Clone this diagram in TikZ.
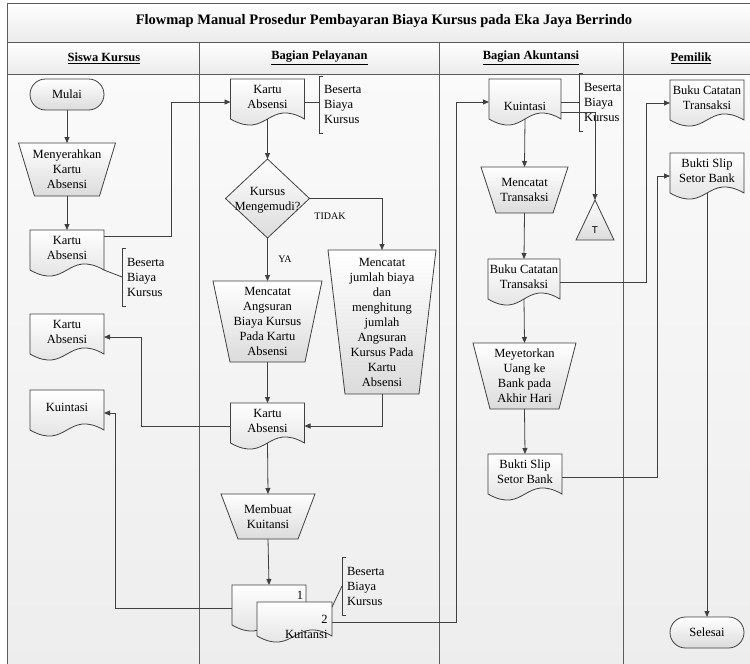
\documentclass[tikz,border=0pt]{standalone}
\usepackage{fontspec}
\setmainfont{Liberation Serif}
\newfontfamily\sansT{Liberation Sans}
\usetikzlibrary{arrows.meta,calc}
\makeatletter
\newdimen\rsA
\pgfkeys{/tikz/manop inset/.initial=16pt}
% document shape: wave at the bottom
\pgfdeclareshape{docshape}{
  \inheritsavedanchors[from=rectangle]
  \inheritanchorborder[from=rectangle]
  \inheritanchor[from=rectangle]{center}
  \inheritanchor[from=rectangle]{north}
  \inheritanchor[from=rectangle]{east}
  \inheritanchor[from=rectangle]{west}
  \inheritanchor[from=rectangle]{north east}
  \inheritanchor[from=rectangle]{north west}
  \inheritanchor[from=rectangle]{south east}
  \inheritanchor[from=rectangle]{south west}
  \inheritanchor[from=rectangle]{text}
  \inheritanchor[from=rectangle]{base}
  \inheritanchor[from=rectangle]{mid}
  \anchor{south}{\southwest \pgf@ya=\pgf@y \pgf@xa=\pgf@x \northeast
     \pgf@x=.5\pgf@x \advance\pgf@x by .5\pgf@xa
     \pgf@y=\pgf@ya \advance\pgf@y by 6pt}
  \backgroundpath{
    \southwest \pgf@xa=\pgf@x \pgf@ya=\pgf@y
    \northeast \pgf@xb=\pgf@x \pgf@yb=\pgf@y
    \pgf@xc=.5\pgf@xa \advance\pgf@xc by .5\pgf@xb
    \advance\pgf@ya by 6pt
    \pgfpathmoveto{\pgfqpoint{\pgf@xa}{\pgf@yb}}
    \pgfpathlineto{\pgfqpoint{\pgf@xb}{\pgf@yb}}
    \pgfpathlineto{\pgfqpoint{\pgf@xb}{\pgf@ya}}
    \pgf@yc=\pgf@ya \advance\pgf@yc by 21pt
    \rsA=\pgf@ya \advance\rsA by -21pt
    \pgfpathcurveto{\pgfqpoint{\pgf@xc}{\pgf@yc}}{\pgfqpoint{\pgf@xc}{\rsA}}{\pgfqpoint{\pgf@xa}{\pgf@ya}}
    \pgfpathclose
  }
}
% manual operation: trapezium, wide side on top
\pgfdeclareshape{manop}{
  \inheritsavedanchors[from=rectangle]
  \inheritanchorborder[from=rectangle]
  \inheritanchor[from=rectangle]{center}
  \inheritanchor[from=rectangle]{north}
  \inheritanchor[from=rectangle]{south}
  \inheritanchor[from=rectangle]{east}
  \inheritanchor[from=rectangle]{west}
  \inheritanchor[from=rectangle]{north east}
  \inheritanchor[from=rectangle]{north west}
  \inheritanchor[from=rectangle]{south east}
  \inheritanchor[from=rectangle]{south west}
  \inheritanchor[from=rectangle]{text}
  \inheritanchor[from=rectangle]{base}
  \inheritanchor[from=rectangle]{mid}
  \backgroundpath{
    \pgfmathsetlength\rsA{\pgfkeysvalueof{/tikz/manop inset}}
    \southwest \pgf@xa=\pgf@x \pgf@ya=\pgf@y
    \northeast \pgf@xb=\pgf@x \pgf@yb=\pgf@y
    \pgfpathmoveto{\pgfqpoint{\pgf@xa}{\pgf@yb}}
    \pgfpathlineto{\pgfqpoint{\pgf@xb}{\pgf@yb}}
    \advance\pgf@xb by -\rsA
    \advance\pgf@xa by \rsA
    \pgfpathlineto{\pgfqpoint{\pgf@xb}{\pgf@ya}}
    \pgfpathlineto{\pgfqpoint{\pgf@xa}{\pgf@ya}}
    \pgfpathclose
  }
}
% decision diamond inscribed in the node box
\pgfdeclareshape{decshape}{
  \inheritsavedanchors[from=rectangle]
  \inheritanchorborder[from=rectangle]
  \inheritanchor[from=rectangle]{center}
  \inheritanchor[from=rectangle]{north}
  \inheritanchor[from=rectangle]{south}
  \inheritanchor[from=rectangle]{east}
  \inheritanchor[from=rectangle]{west}
  \inheritanchor[from=rectangle]{text}
  \inheritanchor[from=rectangle]{base}
  \inheritanchor[from=rectangle]{mid}
  \backgroundpath{
    \southwest \pgf@xa=\pgf@x \pgf@ya=\pgf@y
    \northeast \pgf@xb=\pgf@x \pgf@yb=\pgf@y
    \pgf@xc=.5\pgf@xa \advance\pgf@xc by .5\pgf@xb
    \pgf@yc=.5\pgf@ya \advance\pgf@yc by .5\pgf@yb
    \pgfpathmoveto{\pgfqpoint{\pgf@xc}{\pgf@yb}}
    \pgfpathlineto{\pgfqpoint{\pgf@xb}{\pgf@yc}}
    \pgfpathlineto{\pgfqpoint{\pgf@xc}{\pgf@ya}}
    \pgfpathlineto{\pgfqpoint{\pgf@xa}{\pgf@yc}}
    \pgfpathclose
  }
}
% offline storage triangle, apex up
\pgfdeclareshape{trishape}{
  \inheritsavedanchors[from=rectangle]
  \inheritanchorborder[from=rectangle]
  \inheritanchor[from=rectangle]{center}
  \inheritanchor[from=rectangle]{north}
  \inheritanchor[from=rectangle]{south}
  \inheritanchor[from=rectangle]{east}
  \inheritanchor[from=rectangle]{west}
  \inheritanchor[from=rectangle]{text}
  \inheritanchor[from=rectangle]{base}
  \inheritanchor[from=rectangle]{mid}
  \backgroundpath{
    \southwest \pgf@xa=\pgf@x \pgf@ya=\pgf@y
    \northeast \pgf@xb=\pgf@x \pgf@yb=\pgf@y
    \pgf@xc=.5\pgf@xa \advance\pgf@xc by .5\pgf@xb
    \pgfpathmoveto{\pgfqpoint{\pgf@xc}{\pgf@yb}}
    \pgfpathlineto{\pgfqpoint{\pgf@xb}{\pgf@ya}}
    \pgfpathlineto{\pgfqpoint{\pgf@xa}{\pgf@ya}}
    \pgfpathclose
  }
}
\makeatother
\definecolor{lc}{HTML}{404040}
\definecolor{fc}{HTML}{5C5C5C}
\newcommand\bracketof[1]{\draw[annline] ([xshift=4pt]#1.north west) -- (#1.north west) -- (#1.south west) -- ([xshift=4pt]#1.south west);}
\tikzset{
  arr/.style={draw=lc, line width=0.8pt, -{Triangle[length=6pt,width=5pt]}},
  conn/.style={draw=lc, line width=0.8pt},
  shapebase/.style={draw=lc, line width=0.8pt, top color=white, bottom color=black!14, inner sep=1pt, outer sep=0pt, align=center},
  doc/.style={shapebase, shape=docshape, minimum width=74pt, minimum height=46pt, text depth=11pt},
  manual/.style={shapebase, shape=manop, text depth=0pt},
  decision/.style={shapebase, shape=decshape, text depth=0pt},
  terminal/.style={shapebase, rectangle, rounded corners=15.5pt, minimum width=74pt, minimum height=31pt},
  storage/.style={shapebase, shape=trishape, minimum width=38pt, minimum height=40pt},
  annot/.style={align=left, anchor=west, inner xsep=5pt, inner ysep=0pt, minimum height=58pt, outer sep=0pt},
  annline/.style={draw=lc, line width=0.8pt},
  lbl/.style={font=\fontsize{10}{12}\selectfont, inner sep=0pt},
  head/.style={font=\fontsize{12.5}{14}\selectfont\bfseries},
  frame/.style={draw=fc, line width=1pt},
}
\begin{document}
\begin{tikzpicture}[x=1pt, y=-1pt, font=\fontsize{12.5}{15}\selectfont]
\useasboundingbox (0,0) rectangle (750,664);
\clip (0,0) rectangle (750,664);
% backgrounds
\shade[top color=white, bottom color=black!8] (7,3) rectangle (760,42);
\shade[top color=white, bottom color=black!8] (7,42) rectangle (760,74);
\shade[top color=black!2, bottom color=black!7] (7,74) rectangle (760,668);
% frame and lanes
\draw[frame] (7,3) rectangle (760,668);
\draw[frame] (7,42) -- (760,42);
\draw[frame] (7,74) -- (760,74);
\draw[frame] (199.5,42) -- (199.5,668);
\draw[frame] (439,42) -- (439,668);
\draw[frame] (623,42) -- (623,668);
% titles
\node[font=\fontsize{14.5}{16}\selectfont\bfseries] (title) at (384,21) {Flowmap Manual Prosedur Pembayaran Biaya Kursus pada Eka Jaya Berrindo};
\node[head] (hSiswa) at (104,58) {\underline{Siswa Kursus}};
\node[head] (hPel) at (319.5,58) {\underline{Bagian Pelayanan}};
\node[head] (hAkun) at (531,58) {\underline{Bagian Akuntansi}};
\node[head] (hPem) at (691,58) {\underline{Pemilik}};

% Siswa Kursus
\node[terminal] (mulai) at (67,94.5) {Mulai};
\node[manual, minimum width=97pt, minimum height=53pt, manop inset=16pt] (menyerahkan) at (67,169.5) {Menyerahkan\\Kartu\\Absensi};
\node[doc] (kartuA) at (67,253) {Kartu\\Absensi};
\node[annot] (annA) at (122,277) {Beserta\\Biaya\\Kursus};
\node[doc] (kartuB) at (67,337) {Kartu\\Absensi};
\node[doc] (kuintasiA) at (67,413) {Kuintasi};

% Bagian Pelayanan
\node[doc] (kartuP1) at (267.5,102) {Kartu\\Absensi};
\node[annot, minimum height=57pt] (annP1) at (319,104.5) {Beserta\\Biaya\\Kursus};
\node[decision, minimum width=84pt, minimum height=79pt] (dec) at (267.5,198.5) {Kursus\\Mengemudi?};
\node[manual, minimum width=109pt, minimum height=81pt, manop inset=17pt] (angsuran) at (267.5,321.5) {Mencatat\\Angsuran\\Biaya Kursus\\Pada Kartu\\Absensi};
\node[manual, minimum width=108pt, minimum height=144pt, manop inset=17pt] (jumlah) at (382,322) {Mencatat\\jumlah biaya\\dan\\menghitung\\jumlah\\Angsuran\\Kursus Pada\\Kartu\\Absensi};
\node[doc] (kartuP2) at (267.5,426) {Kartu\\Absensi};
\node[manual, minimum width=94pt, minimum height=45pt, manop inset=17pt] (membuat) at (268,516.5) {Membuat\\Kuitansi};
\node[doc, text width=68pt, align=right, text depth=26pt] (kuitA) at (269,608) {1};
\node[doc, minimum width=75pt, minimum height=40pt, text width=66pt, align=right, text depth=5pt] (kuitB) at (294.5,622) {2\\Kuitansi};
\node[annot] (annK) at (342,586) {Beserta\\Biaya\\Kursus};
\node[lbl] (lblTidak) at (330,216) {TIDAK};
\node[lbl] (lblYa) at (285,259) {YA};

% Bagian Akuntansi
\node[doc, minimum width=72pt, text height=16pt, text depth=0pt] (kuintasiK) at (525,102) {Kuintasi};
\node[annot] (annK2) at (579,102) {Beserta\\Biaya\\Kursus};
\node[storage] (tri) at (595,220) {\raisebox{-13.5pt}[0pt][0pt]{\sansT\fontsize{10}{12}\selectfont T}};
\node[manual, minimum width=87pt, minimum height=46pt, manop inset=15pt] (mencatatT) at (524.5,190) {Mencatat\\Transaksi};
\node[doc, minimum width=72pt] (bukuK) at (524,282) {Buku Catatan\\Transaksi};
\node[manual, minimum width=103pt, minimum height=66pt, manop inset=17pt] (meyetor) at (524.5,376) {Meyetorkan\\Uang ke\\Bank pada\\Akhir Hari};
\node[doc] (buktiK) at (525,477) {Bukti Slip\\Setor Bank};

% Pemilik
\node[doc] (bukuP) at (707,103) {Buku Catatan\\Transaksi};
\node[doc] (buktiP) at (707,176) {Bukti Slip\\Setor Bank};
\node[terminal] (selesai) at (707,632.5) {Selesai};

% annotation brackets
\bracketof{annA}
\bracketof{annP1}
\bracketof{annK}
\bracketof{annK2}

% connectors
\draw[arr] (mulai.south) -- (menyerahkan.north);
\draw[arr] (menyerahkan.south) -- (kartuA.north);
\draw[arr] ([yshift=-6pt]kartuA.north east) -- ++(67,0) |- (kartuP1.west);
\draw[conn] ([yshift=6pt]kartuA.south east) -- (annA.west);
\draw[conn] (kartuP1.east) -- (kartuP1.east -| annP1.west);
\draw[arr] (kartuP1.south) -- (dec.north);
\draw[arr] (dec.east) -| (jumlah.north);
\draw[arr] (dec.south) -- (angsuran.north);
\draw[arr] (angsuran.south) -- (kartuP2.north);
\draw[arr] (jumlah.south) |- (kartuP2.east);
\draw[arr] (kartuP2.west) -- ++(-89,0) |- (kartuB.east);
\draw[arr] (kartuP2.south) -- (membuat.north);
\draw[arr] (membuat.south) -- (kuitA.north);
\draw[arr] (kuitA.west) -- ++(-117,0) |- (kuintasiA.east);
\draw[conn] ([yshift=-5pt]kuitB.north east) -- (annK.west);
\draw[arr] (kuitB.east) -- ++(124,0) |- (kuintasiK.west);
\draw[conn] (kuintasiK.east) -- (kuintasiK.east -| annK2.west);
\draw[arr] ([yshift=-10pt]kuintasiK.east) -| (tri.north);
\draw[arr] (kuintasiK.south) -- (mencatatT.north);
\draw[arr] (mencatatT.south) -- (bukuK.north);
\draw[arr] (bukuK.south) -- (meyetor.north);
\draw[arr] (meyetor.south) -- (buktiK.north);
\draw[arr] (bukuK.east) -- ++(86,0) |- (bukuP.west);
\draw[arr] (buktiK.east) -- ++(95,0) |- (buktiP.west);
\draw[arr] (buktiP.south) -- (selesai.north);
\end{tikzpicture}
\end{document}
